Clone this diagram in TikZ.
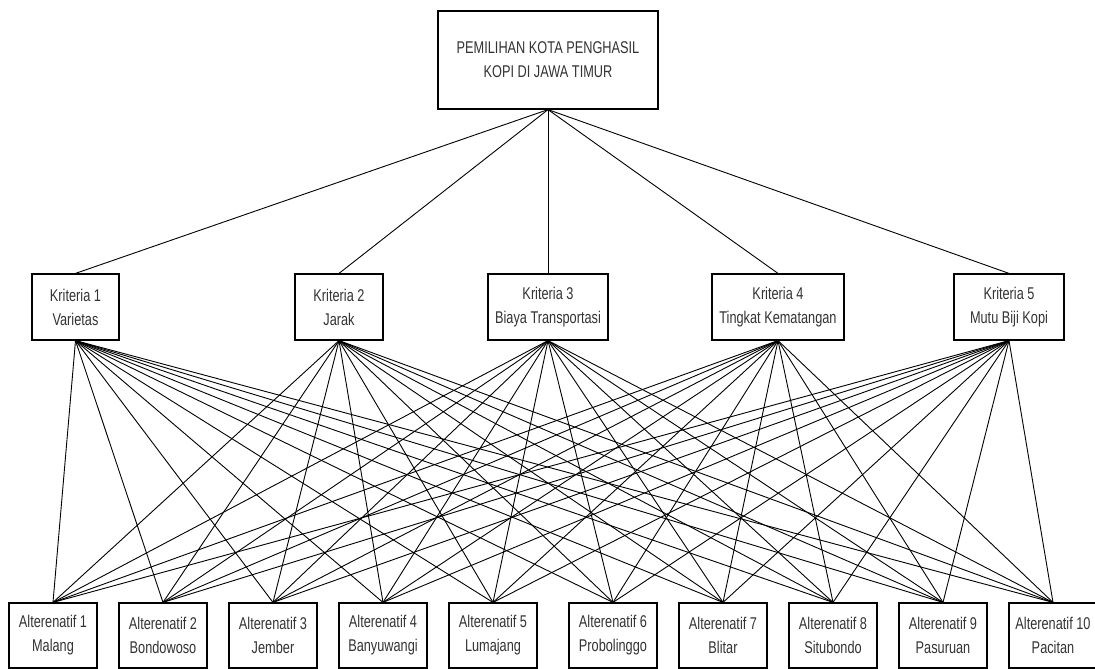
\documentclass[tikz,border=0pt]{standalone}
\usepackage{fontspec}
\setmainfont{Liberation Sans}[FakeStretch=0.75]
\begin{document}
\begin{tikzpicture}[x=1pt,y=-1pt,
  box/.style={draw=black,line width=1.2pt,fill=white,inner sep=0pt,align=center,
    text=black!80,font=\fontsize{17}{24}\selectfont},
  link/.style={draw=black,line width=0.9pt}]
\useasboundingbox (0,0) rectangle (1095,669);
% goal
\node[box,minimum width=220pt,minimum height=98pt] (goal) at (548,60) {PEMILIHAN KOTA PENGHASIL\\KOPI DI JAWA TIMUR};
% criteria
\node[box,minimum width=87pt,minimum height=66pt] (k1) at (75.5,307) {Kriteria 1\\Varietas};
\node[box,minimum width=88pt,minimum height=66pt] (k2) at (339,307) {Kriteria 2\\Jarak};
\node[box,minimum width=120pt,minimum height=66pt] (k3) at (548,307) {Kriteria 3\\Biaya Transportasi};
\node[box,minimum width=132pt,minimum height=66pt] (k4) at (778,307) {Kriteria 4\\Tingkat Kematangan};
\node[box,minimum width=110pt,minimum height=66pt] (k5) at (1009,307) {Kriteria 5\\Mutu Biji Kopi};
% alternatives
\foreach \i/\x/\name in {1/53/Malang,2/163/Bondowoso,3/273/Jember,4/383/Banyuwangi,5/493/Lumajang,6/613/Probolinggo,7/723/Blitar,8/833/Situbondo,9/943/Pasuruan,10/1053/Pacitan}{
  \node[box,minimum width=88pt,minimum height=65pt] (a\i) at (\x,635.5) {Alterenatif \i\\\name};
}
% connectors
\begin{scope}[on background layer/.style={}]
\foreach \k in {1,...,5}{
  \draw[link] (goal.south) -- (k\k.north);
  \foreach \i in {1,...,10}{
    \draw[link] (k\k.south) -- (a\i.north);
  }
}
\end{scope}
\end{tikzpicture}
\end{document}
